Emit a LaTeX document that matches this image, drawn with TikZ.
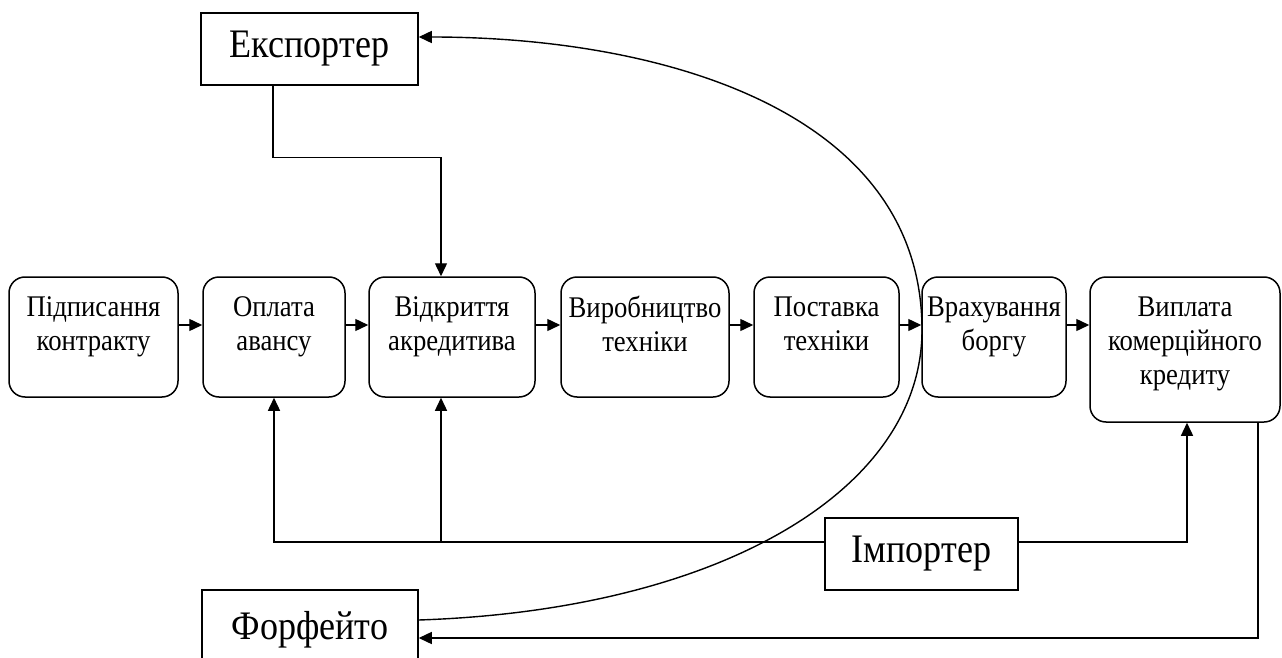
\documentclass[tikz,border=0pt]{standalone}
\usepackage{fontspec}
\setmainfont{Liberation Serif}
\newfontfamily\tallserif[FakeStretch=0.89]{Liberation Serif}
\usetikzlibrary{arrows.meta}
\begin{document}
\begin{tikzpicture}[x=1pt,y=-1pt,
  stage/.style={draw, line width=1.5pt, rounded corners=16pt, inner sep=0pt, minimum height=120pt},
  lbl/.style={font=\tallserif\fontsize{30}{34}\selectfont, align=center, anchor=north, inner sep=0pt},
  actor/.style={draw, line width=1.5pt, inner sep=0pt, minimum height=72pt, font=\tallserif\fontsize{40.5}{46}\selectfont},
  conn/.style={line width=1.4pt, -{Triangle[length=13pt,width=12pt]}},
  ]
\useasboundingbox (0,0) rectangle (1282,658);
\clip (0,0) rectangle (1282,658);
% stages
\node[stage, minimum width=169pt] (b1) at (93.5,337) {};
\node[stage, minimum width=142pt] (b2) at (274,337) {};
\node[stage, minimum width=166pt] (b3) at (452,337) {};
\node[stage, minimum width=168pt] (b4) at (645,337) {};
\node[stage, minimum width=145pt] (b5) at (826.5,337) {};
\node[stage, minimum width=144pt] (b6) at (994,337) {};
\node[stage, minimum width=190pt, minimum height=145pt] (b7) at (1185,349.5) {};
\node[lbl] (t1) at ([yshift=-20pt]b1.north) {Підписання\\контракту};
\node[lbl] (t2) at ([yshift=-20pt]b2.north) {Оплата\\авансу};
\node[lbl] (t3) at ([yshift=-20pt]b3.north) {Відкриття\\акредитива};
\node[lbl] (t4) at ([yshift=-20pt]b4.north) {Виробництво\\техніки};
\node[lbl] (t5) at ([yshift=-20pt]b5.north) {Поставка\\техніки};
\node[lbl] (t6) at ([yshift=-20pt]b6.north) {Врахування\\боргу};
\node[lbl] (t7) at ([yshift=-20pt]b7.north) {Виплата\\комерційного\\кредиту};
% actors
\node[actor, minimum width=217pt] (exp) at (309.5,49) {Експортер};
\node[actor, minimum width=193pt] (imp) at (921.5,554) {Імпортер};
\node[actor, minimum width=216pt, minimum height=80pt] (forf) at (310,630) {Форфейто};
% chain arrows
\draw[conn] ([yshift=12pt]b1.east) -- ([yshift=12pt]b1.east -| b2.west);
\draw[conn] ([yshift=12pt]b2.east) -- ([yshift=12pt]b2.east -| b3.west);
\draw[conn] ([yshift=12pt]b3.east) -- ([yshift=12pt]b3.east -| b4.west);
\draw[conn] ([yshift=12pt]b4.east) -- ([yshift=12pt]b4.east -| b5.west);
\draw[conn] ([yshift=12pt]b5.east) -- ([yshift=12pt]b5.east -| b6.west);
\draw[conn] ([yshift=12pt]b6.east) -- ([yshift=12pt]b6.east -| b7.west);
% exporter to letter of credit
\draw[conn] ([xshift=-36.5pt]exp.south) -- ++(0,72) -| ([xshift=-11pt]b3.north);
% importer connections
\coordinate (jb) at ([yshift=12pt]imp.west -| b3.south);
\draw[conn] ([yshift=12pt]imp.west) -| (b2.south);
\draw[conn] ([xshift=-11pt]jb) -- ([xshift=-11pt]b3.south);
\draw[conn] ([yshift=12pt]imp.east) -| ([xshift=2pt]b7.south);
% credit payment to forfaiter
\draw[conn] ([xshift=73pt]b7.south) |- ([yshift=-8pt]forf.east);
% forfaiter to exporter curve
\coordinate (cr) at (922,330);
\draw[conn] ([yshift=10pt]forf.east) .. controls (720,610) and (922,490) .. (cr)
  .. controls (922,110) and (660,37) .. ([yshift=12pt]exp.east);
\end{tikzpicture}
\end{document}
